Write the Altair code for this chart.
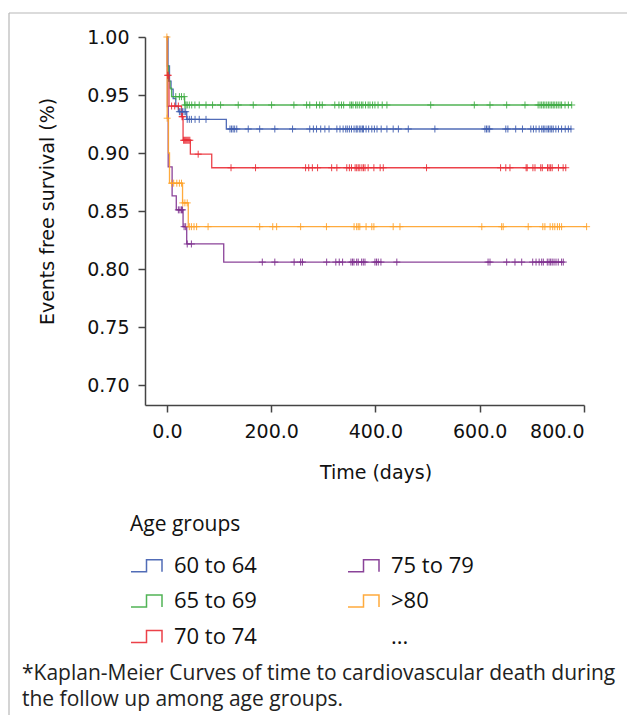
import altair as alt
import pandas as pd

# ---------------- data ----------------
GROUPS = ["60 to 64", "65 to 69", "70 to 74", "75 to 79", ">80"]
COLORS = ["#3f5db0", "#3fac44", "#ea2d36", "#7e2f8e", "#ffa229"]
LEGEND_ORDER = ["60 to 64", "65 to 69", "70 to 74", "75 to 79", ">80", "..."]

# step times (days) and survival after each step
t_60_64 = [0, 2, 5, 8, 12, 17, 22, 38, 114]
s_60_64 = [1.0, 0.975, 0.962, 0.955, 0.947, 0.940, 0.9356, 0.929, 0.9207]
c_60_64 = [24, 27, 30, 33, 36, 39, 43, 47, 54, 62, 75, 121, 124, 127, 130, 134, 156, 178,
           207, 241, 274, 281, 287, 295, 303, 311, 326, 332, 338, 343, 346, 350, 354, 359,
           363, 365, 369, 372, 375, 377, 382, 387, 393, 398, 403, 411, 422, 434, 444, 463,
           514, 610, 613, 616, 619, 650, 654, 669, 682, 698, 703, 708, 714, 719, 722, 725,
           729, 732, 735, 738, 741, 746, 751, 757, 764, 770, 775]

t_65_69 = [0, 1, 3, 6, 9, 34]
s_65_69 = [1.0, 0.975, 0.962, 0.956, 0.9486, 0.9414]
c_65_69 = [17, 24, 28, 33, 34.5, 36.5, 39, 43, 47.6, 53.7, 62, 75, 87.6, 103, 136.8, 165.6,
           200.8, 243.6, 268, 274, 287, 293, 298, 322, 330, 334.8, 339, 351, 354, 357, 362,
           365, 369, 373, 376, 381, 386, 389.5, 394.5, 399, 405, 413, 422, 506, 589.6, 619.7,
           651.7, 686.8, 712, 715.6, 718.8, 722, 725, 728.5, 731.7, 734.8, 738, 741, 744,
           747.5, 750.6, 754, 757, 763.6, 770, 776.4]

t_70_74 = [0, 1, 4, 28, 31, 45, 86]
s_70_74 = [1.0, 0.967, 0.9405, 0.9313, 0.911, 0.899, 0.8873]
c_70_74 = [1.5, 2.5, 9, 15, 22, 29, 30, 32, 34, 36, 38, 40, 42, 44, 60, 123, 170, 266, 272,
           279, 289, 316, 326, 345, 350, 354, 361, 364, 367, 370, 374, 377, 380, 386, 397,
           409, 415, 498, 640, 650, 658, 689, 691, 702, 706, 717, 720, 730, 733, 736, 739,
           751, 760, 765]

t_75_79 = [0, 1, 2.5, 10, 18, 31, 38, 109]
s_75_79 = [1.0, 0.94, 0.888, 0.863, 0.851, 0.8365, 0.8216, 0.806]
c_75_79 = [22, 25, 28, 30, 33, 36, 39, 47, 183, 207, 244, 256.5, 260, 306.4, 324, 330.6,
           337, 353, 356, 358.8, 364, 367, 373.5, 376.7, 379.9, 399, 402, 405.4, 410.5, 441,
           616, 619.7, 651.7, 667.6, 680.5, 701.6, 708, 714, 718.8, 722, 729.6, 733, 736,
           739, 742.5, 746.3, 750.6, 757, 760.3]

t_80 = [0, 0.5, 3, 5, 30, 41]
s_80 = [1.0, 0.930, 0.900, 0.874, 0.857, 0.8365]
c_80 = [0, 0.5, 9, 13, 19, 24, 28, 30.5, 34.5, 39, 43, 47, 52, 57, 79, 178, 203, 210.5,
        256.5, 306, 359, 364, 367, 370, 382, 393, 397, 434, 447, 604, 642, 645, 693, 721,
        725, 735, 740, 744, 749, 753, 757, 805]

X_TICKS = [0, 200, 400, 600, 800]
Y_TICKS = [0.70, 0.75, 0.80, 0.85, 0.90, 0.95, 1.00]

CAPTION = ["*Kaplan-Meier Curves of time to cardiovascular death during",
           "the follow up among age groups."]

SERIES = {
    "60 to 64": (t_60_64, s_60_64, c_60_64),
    "65 to 69": (t_65_69, s_65_69, c_65_69),
    "70 to 74": (t_70_74, s_70_74, c_70_74),
    "75 to 79": (t_75_79, s_75_79, c_75_79),
    ">80": (t_80, s_80, c_80),
}


def level(ts, ss, t):
    v = ss[0]
    for ti, si in zip(ts, ss):
        if ti <= t:
            v = si
    return v


line_rows, cens_rows = [], []
for g in GROUPS:
    ts, ss, cs = SERIES[g]
    for ti, si in zip(ts, ss):
        line_rows.append({"group": g, "time": ti, "surv": si})
    line_rows.append({"group": g, "time": max(cs), "surv": ss[-1]})
    for c in cs:
        cens_rows.append({"group": g, "time": c, "surv": level(ts, ss, c)})

lines_df = pd.DataFrame(line_rows)
cens_df = pd.DataFrame(cens_rows)

color_map = dict(zip(GROUPS, COLORS))
legend_range = [color_map.get(g, "transparent") for g in LEGEND_ORDER]

# ---------------- chart ----------------
W, H = 439, 368
x_scale = alt.Scale(domain=[-42, 800], nice=False, zero=False)
y_scale = alt.Scale(domain=[0.6828, 1.0], nice=False, zero=False)

x_enc = alt.X("time:Q", scale=x_scale,
              axis=alt.Axis(values=X_TICKS, format=".1f", title="Time (days)",
                            titleX=230.5, titleY=58, labelPadding=10))
y_enc = alt.Y("surv:Q", scale=y_scale,
              axis=alt.Axis(values=Y_TICKS, format=".2f", title="Events free survival (%)",
                            titleX=-88, titleY=174, labelPadding=9))

legend = alt.Legend(
    title="Age groups", orient="none", legendX=-15, legendY=477, columns=2,
    columnPadding=88, rowPadding=7.5, padding=0,
    symbolType="M-1,0.38L0,0.38L0,-0.38L1,-0.38L1,0.38", symbolSize=961,
    symbolStrokeWidth=1.5, symbolFillColor="transparent", labelOffset=11,
    labelFont="Open Sans", labelFontSize=22, labelColor="#111", labelLimit=400,
    titleFont="Open Sans", titleFontSize=21, titleFontWeight="normal", titleColor="#111",
    titlePadding=14,
)

lines = alt.Chart(lines_df).mark_line(interpolate="step-after", strokeWidth=1.3, opacity=0.9).encode(
    x=x_enc, y=y_enc,
    color=alt.Color("group:N", scale=alt.Scale(domain=LEGEND_ORDER, range=legend_range), legend=legend),
)

points = alt.Chart(cens_df).mark_point(
    shape="M0,-1L0,1M-1,0L1,0", size=49, strokeWidth=1, filled=False, opacity=0.9
).encode(
    x="time:Q", y="surv:Q",
    stroke=alt.Stroke("group:N", scale=alt.Scale(domain=GROUPS, range=COLORS), legend=None),
)

one = pd.DataFrame({"k": [0]})
frame_top = alt.Chart(one).mark_rule(color="#b8b8b8", strokeWidth=1.2).encode(
    x=alt.value(-136), x2=alt.value(485), y=alt.value(-24))
frame_left = alt.Chart(one).mark_rule(color="#b8b8b8", strokeWidth=1.2).encode(
    x=alt.value(-136), y=alt.value(-24), y2=alt.value(700))

caption = alt.Chart(one).mark_text(
    align="left", baseline="alphabetic", font="Open Sans", fontSize=21, lineHeight=26,
    color="#222").encode(x=alt.value(-123), y=alt.value(643), text=alt.value(CAPTION))

chart = alt.layer(frame_top, frame_left, lines, points, caption).properties(
    width=W, height=H,
    autosize=alt.AutoSizeParams(type="none"),
    padding={"left": 137, "top": 29, "right": 43, "bottom": 310},
).configure_view(stroke=None).configure_axis(
    grid=False, labelFont="DejaVu Sans", labelFontSize=19, labelColor="#111",
    titleFont="DejaVu Sans", titleFontSize=19, titleFontWeight="normal", titleColor="#111",
    domainColor="#444", domainWidth=1.5, tickColor="#444", tickWidth=1.5, tickSize=7,
)

chart.save("out.html", embed_options={"renderer": "svg", "actions": False})
